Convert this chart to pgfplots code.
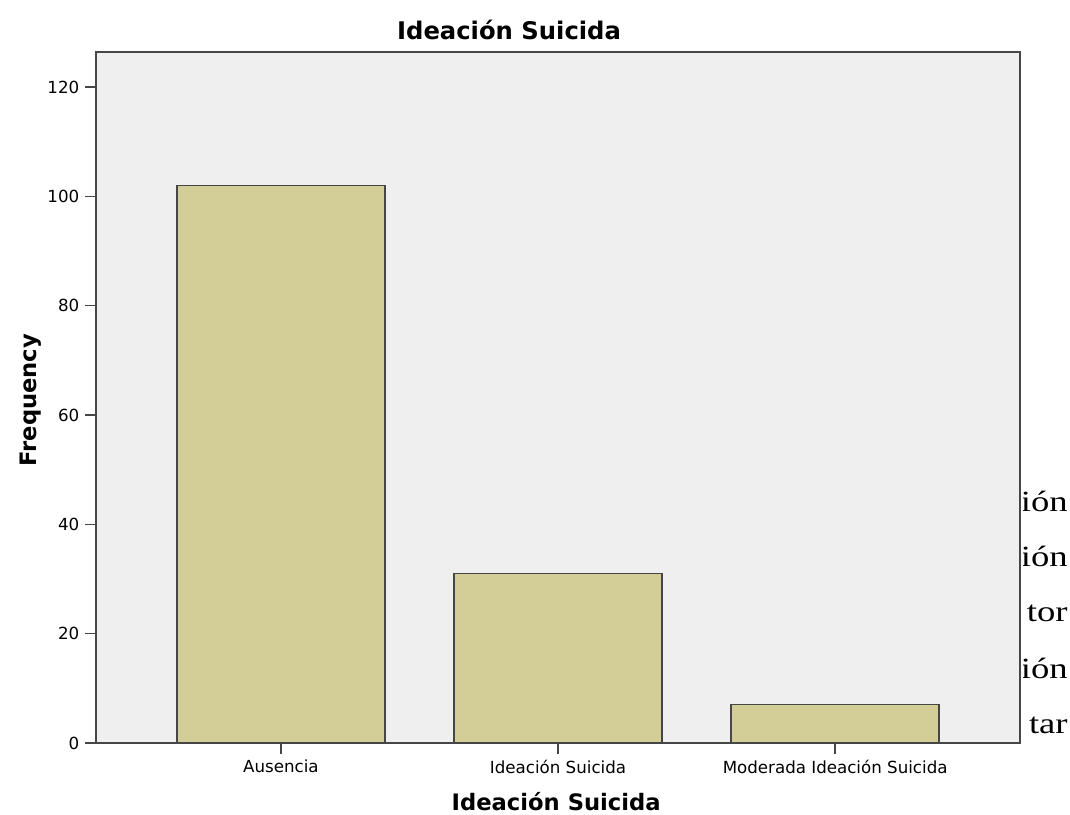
\documentclass[border=0pt]{standalone}
\usepackage{pgfplots}
\pgfplotsset{compat=1.18}
\usepackage{fontspec}
\setmainfont{DejaVu Sans}
\newfontfamily\seriffont{Liberation Serif}

\definecolor{plotbg}{HTML}{EFEFEF}
\definecolor{barfill}{HTML}{D3CE98}
\definecolor{edge}{HTML}{464646}

\begin{document}
\begin{tikzpicture}
  % page frame: 1070 x 814 px at 0.75pt per px
  \path[use as bounding box] (0pt,0pt) rectangle (802.5pt,610.5pt);
  \begin{axis}[
      at={(72pt,53.25pt)}, anchor=south west,
      scale only axis,
      width=693pt, height=518.25pt,
      axis background/.style={fill=plotbg},
      axis line style={edge, line width=1.1pt},
      xmin=-0.667, xmax=2.667,
      ymin=0, ymax=126.4,
      xtick=data,
      xticklabels={Ausencia, Ideación Suicida, Moderada Ideación Suicida},
      ytick={0,20,...,120},
      tick align=outside,
      tick pos=left,
      major tick length=8pt,
      tick style={edge, line width=1.1pt},
      ticklabel style={font=\fontsize{12.5}{15}\selectfont},
      /pgf/number format/assume math mode=true,
      yticklabel style={xshift=-1pt},
      xticklabel style={yshift=-1pt},
      title={\bfseries Ideación Suicida},
      title style={font=\fontsize{18.2}{21}\selectfont, at={(axis description cs:0.447,1.0203)}, anchor=base, yshift=-7.5pt},
      xlabel={\bfseries Ideación Suicida},
      xlabel style={font=\fontsize{17}{20}\selectfont, at={(axis description cs:0.498,-0.097)}, anchor=base},
      ylabel={\bfseries Frequency},
      ylabel style={font=\fontsize{17}{20}\selectfont, at={(axis description cs:-0.0649,0.496)}, anchor=base},
    ]
    \addplot[ybar, bar width=0.75, fill=barfill, draw=edge, line width=1.1pt]
      coordinates {(0,102) (1,31) (2,7)};
  \end{axis}
  % stray text from the page the chart was cut from
  \begin{scope}
    \clip (767.6pt,0pt) rectangle (802.5pt,610.5pt);
    \foreach \t/\y in {ión/226.5, ión/185.25, tor/144, ión/102, tar/60.75}
      \node[anchor=base east, inner sep=0pt, xscale=1.25, font=\seriffont\fontsize{22}{26}\selectfont] at (801pt,\y pt) {\t};
  \end{scope}
\end{tikzpicture}
\end{document}
